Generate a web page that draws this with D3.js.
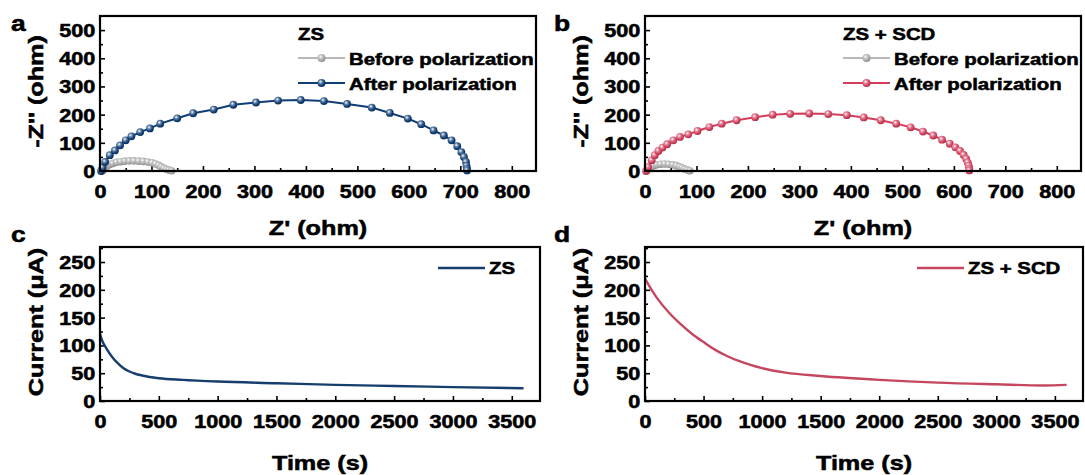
<!DOCTYPE html>
<html>
<head>
<meta charset="utf-8">
<script src="https://cdn.jsdelivr.net/npm/d3@7"></script>
<style>
  body { margin: 0; background: #fff; }
  text { font-family: "Liberation Sans", Arial, sans-serif; font-weight: bold; fill: #000; stroke: #000; stroke-width: 0.55px; }
</style>
</head>
<body>
<script>
// Nyquist data, [Z' , -Z''] in ohm
const zsBefore = [[5,0],[7,6],[10,12],[14,18],[19,23],[25,27],[32,31],[40,33],[48,35],[57,36],[66,36],[75,35],[84,34],[93,32],[101,29],[108,25],[114,20],[119,15],[124,10],[129,6],[134,3],[139,1]];
const zsAfter = [[2,0],[5,12],[10,32],[19,56],[29,73],[39,91],[50,109],[61,123],[78,138],[97,151],[117,168],[150,187],[181,205],[221,218],[259,235],[303,243],[346,250],[390,252],[435,248],[480,238],[528,225],[563,206],[598,186],[624,166],[648,144],[668,126],[683,109],[694,88],[702,67],[707,50],[711,32],[712,18],[713,8],[713,2]];
const scdBefore = [[3,0],[5,6],[8,11],[12,15],[17,19],[23,22],[30,24],[38,25],[46,24],[54,22],[61,19],[67,15],[72,11],[77,7],[82,4],[87,1]];
const scdAfter = [[2,0],[6,14],[13,38],[19,56],[26,71],[34,83],[43,95],[55,109],[68,121],[84,130],[102,142],[125,156],[149,168],[178,180],[214,191],[248,200],[282,203],[319,204],[356,202],[392,198],[425,190],[458,180],[488,168],[516,155],[540,140],[560,126],[577,111],[592,97],[603,84],[612,71],[619,57],[624,43],[627,30],[629,18],[630,8],[630,2]];

// chronoamperometry, time (s) and current (uA)
const zsTime = [0,20,50,100,150,200,250,300,400,500,700,1000,1500,2000,2500,3000,3600];
const zsCurrent = [121,108,96,80,68,59,53,49,44,41,38,35,32,29,27,25,23];
const scdTime = [0,50,100,200,300,400,500,600,700,800,900,1000,1200,1500,2000,2500,3000,3400,3600];
const scdCurrent = [220,202,186,160,139,121,106,92,81,72,65,59,51,45,38,33,30,28,29];

// tick labels
const eisTicksX = [0,100,200,300,400,500,600,700,800];
const eisTicksY = [0,100,200,300,400,500];
const timeTicks = [0,500,1000,1500,2000,2500,3000,3500];
const currentTicks = [0,50,100,150,200,250];

const NAVY = '#0f3d75', RED = '#d23e5c';
const NAVY_LINE = '#163e6d', RED_LINE = '#c4475f', GRAY = '#b8b8b8';
const SX = 1.2; // the figure's lettering is stretched wide

const svg = d3.select('body').append('svg').attr('width', 1085).attr('height', 475);
const defs = svg.append('defs');

function ball(id, c) {
  const gr = defs.append('radialGradient').attr('id', id).attr('cx', '38%').attr('cy', '35%').attr('r', '65%');
  gr.append('stop').attr('offset', '0%').attr('stop-color', '#fff');
  gr.append('stop').attr('offset', '35%').attr('stop-color', d3.interpolateRgb(c, '#fff')(0.35));
  gr.append('stop').attr('offset', '75%').attr('stop-color', c);
  gr.append('stop').attr('offset', '100%').attr('stop-color', d3.color(c).darker(0.6));
}
ball('bNavy', NAVY);
ball('bRed', RED);
ball('bGray', '#a8a8a8');

function label(g, x, y, txt, size, anchor, rot) {
  return g.append('text')
    .attr('transform', `translate(${x},${y})` + (rot ? ' rotate(-90)' : '') + ` scale(${SX},1)`)
    .attr('text-anchor', anchor || 'start')
    .style('font-size', size + 'px')
    .text(txt);
}

function minors(ticks, max) {
  const step = ticks[1] - ticks[0];
  return ticks.map(t => t + step / 2).filter(t => t < max);
}

function panel(o) {
  const x = d3.scaleLinear().domain(o.xDomain).range([o.left, o.right]);
  const y = d3.scaleLinear().domain(o.yDomain).range([o.bottom, o.top]);
  const g = svg.append('g');

  // axes, ticks point inward
  const ax = g.append('g').attr('transform', `translate(0,${o.bottom})`)
    .call(d3.axisBottom(x).tickValues(o.xTicks).tickSize(-5).tickFormat(d3.format('d')));
  g.append('g').attr('transform', `translate(0,${o.bottom})`)
    .call(d3.axisBottom(x).tickValues(minors(o.xTicks, o.xDomain[1])).tickSize(-3).tickFormat(''));
  const ay = g.append('g').attr('transform', `translate(${o.left},0)`)
    .call(d3.axisLeft(y).tickValues(o.yTicks).tickSize(-5).tickFormat(d3.format('d')));
  g.append('g').attr('transform', `translate(${o.left},0)`)
    .call(d3.axisLeft(y).tickValues(minors(o.yTicks, o.yDomain[1])).tickSize(-3).tickFormat(''));
  g.selectAll('.domain').remove();
  g.selectAll('.tick line').attr('stroke', '#000').attr('stroke-width', 1.6);
  ax.selectAll('text').attr('y', 14).attr('dy', '0.71em').attr('transform', `scale(${SX},1)`)
    .style('font-size', '18px').attr('fill', '#000');
  ay.selectAll('text').attr('x', -4).attr('dy', '0.36em').attr('transform', `scale(${SX},1)`)
    .style('font-size', '18px').attr('fill', '#000');
  ax.attr('font-family', null).attr('font-size', null);
  ay.attr('font-family', null).attr('font-size', null);

  o.draw(g, x, y);

  // frame
  g.append('rect').attr('x', o.left).attr('y', o.top)
    .attr('width', o.right - o.left).attr('height', o.bottom - o.top)
    .attr('fill', 'none').attr('stroke', '#000').attr('stroke-width', 2.2);

  label(g, o.letterX, o.letterY, o.letter, 22, 'start');
  label(g, (o.left + o.right) / 2, o.xTitleY, o.xTitle, 21, 'middle');
  label(g, o.yTitleX, (o.top + o.bottom) / 2 - 2, o.yTitle, 21, 'middle', true);
}

function nyquist(before, after, color, ballId, title) {
  return function (g, x, y) {
    const line = d3.line().x(d => x(d[0])).y(d => y(d[1]));
    g.append('path').datum(before).attr('d', line).attr('fill', 'none').attr('stroke', GRAY).attr('stroke-width', 2.5);
    g.selectAll('.pb').data(before).enter().append('circle')
      .attr('cx', d => x(d[0])).attr('cy', d => y(d[1])).attr('r', 3.8).attr('fill', 'url(#bGray)');
    g.append('path').datum(after).attr('d', line).attr('fill', 'none').attr('stroke', color).attr('stroke-width', 2);
    g.selectAll('.pa').data(after).enter().append('circle')
      .attr('cx', d => x(d[0])).attr('cy', d => y(d[1])).attr('r', 3.9).attr('fill', `url(#${ballId})`);

    // legend
    const lx = x.range()[0] + 198;
    label(g, lx, 40, title, 17, 'start');
    [[GRAY, 'bGray', 'Before polarization', 58], [color, ballId, 'After polarization', 83]].forEach(r => {
      g.append('line').attr('x1', lx).attr('x2', lx + 47).attr('y1', r[3]).attr('y2', r[3])
        .attr('stroke', r[0]).attr('stroke-width', 2);
      g.append('circle').attr('cx', lx + 23.5).attr('cy', r[3]).attr('r', 4).attr('fill', `url(#${r[1]})`);
      label(g, lx + 51, r[3] + 6.5, r[2], 17, 'start');
    });
  };
}

function current(times, vals, color, name, lx) {
  return function (g, x, y) {
    const line = d3.line().x((d, i) => x(times[i])).y(d => y(d)).curve(d3.curveMonotoneX);
    g.append('path').datum(vals).attr('d', line).attr('fill', 'none').attr('stroke', color).attr('stroke-width', 2.4);
    g.append('line').attr('x1', lx).attr('x2', lx + 47).attr('y1', 268).attr('y2', 268)
      .attr('stroke', color).attr('stroke-width', 2.4);
    label(g, lx + 51, 274, name, 17, 'start');
  };
}

const eisBase = { xDomain: [0, 847], yDomain: [0, 550], xTicks: eisTicksX, yTicks: eisTicksY,
  top: 16, bottom: 171, xTitle: "Z' (ohm)", yTitle: "-Z'' (ohm)", xTitleY: 235, letterY: 31 };
const itBase = { xDomain: [0, 3740], yDomain: [0, 277], xTicks: timeTicks, yTicks: currentTicks,
  top: 247, bottom: 401, xTitle: 'Time (s)', yTitle: 'Current (μA)', xTitleY: 470, letterY: 242 };

panel(Object.assign({}, eisBase, { left: 100, right: 536, letter: 'a', letterX: 11, yTitleX: 43,
  draw: nyquist(zsBefore, zsAfter, NAVY, 'bNavy', 'ZS') }));
panel(Object.assign({}, eisBase, { left: 645, right: 1081, letter: 'b', letterX: 554, yTitleX: 588,
  draw: nyquist(scdBefore, scdAfter, RED, 'bRed', 'ZS + SCD') }));
panel(Object.assign({}, itBase, { left: 100, right: 540, letter: 'c', letterX: 11, yTitleX: 43,
  draw: current(zsTime, zsCurrent, NAVY_LINE, 'ZS', 438) }));
panel(Object.assign({}, itBase, { left: 645, right: 1083, letter: 'd', letterX: 554, yTitleX: 588,
  draw: current(scdTime, scdCurrent, RED_LINE, 'ZS + SCD', 917) }));
</script>
</body>
</html>
